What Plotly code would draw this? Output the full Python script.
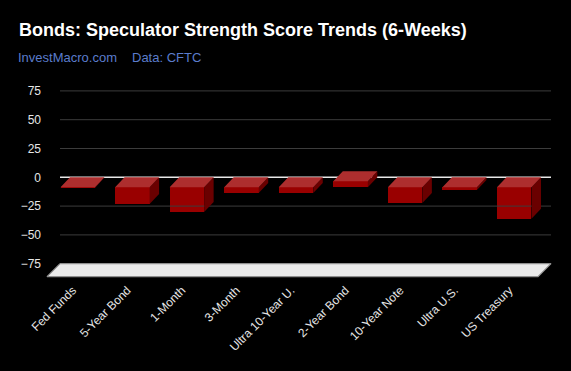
import plotly.graph_objects as go

# ---------------- data ----------------
categories = ["Fed Funds", "5-Year Bond", "1-Month", "3-Month", "Ultra 10-Year U.",
              "2-Year Bond", "10-Year Note", "Ultra U.S.", "US Treasury"]
scores = [-0.5, -14.5, -21.4, -4.9, -5.0, 5.2, -13.6, -2.3, -27.2]
y_ticks = [-75, -50, -25, 0, 25, 50, 75]

# ---------------- layout geometry (pixels) ----------------
W, H = 571, 371
L, R, T, B = 42, 560, 80, 280          # plot area
wall_left, wall_right = 60, 551         # back wall extent
zero_px, uy = 177.3, 1.152              # y pixel of 0, px per unit
n = len(categories)
ux = (wall_right - wall_left) / n       # px per category
x0_px = wall_left + ux / 2
xr = [(L - x0_px) / ux, (R - x0_px) / ux]
yr = [-(B - zero_px) / uy, (zero_px - T) / uy]
DX, DY = -9.5 / ux, -10 / uy            # 3D depth offsets (front = left/down)
FDX, FDY = -13 / ux, -13 / uy           # floor depth
LDX = -5 / ux                           # label nudge
bw = 34.5 / ux

FRONT, TOP, SIDE = "#990000", "#ad2e2e", "#6a0000"
FONT = "Liberation Sans, Arial, sans-serif"

fig = go.Figure()

# floor
ymin = min(y_ticks)
fig.add_trace(go.Scatter(
    x=[-0.5, n - 0.5, n - 0.5 + FDX, -0.5 + FDX, -0.5],
    y=[ymin, ymin, ymin + FDY, ymin + FDY, ymin],
    mode="lines", fill="toself", fillcolor="#ebebeb",
    line=dict(color="#8f8f8f", width=1.2), hoverinfo="skip", showlegend=False))

# gridlines on back wall
gx, gy = [], []
for t in y_ticks:
    if t in (0, ymin):
        continue
    gx += [-0.5, n - 0.5, None]
    gy += [t, t, None]
fig.add_trace(go.Scatter(x=gx, y=gy, mode="lines", line=dict(color="#3c3c3c", width=1),
                         hoverinfo="skip", showlegend=False))
fig.add_trace(go.Scatter(x=[-0.5, n - 0.5], y=[0, 0], mode="lines",
                         line=dict(color="#e8e8e8", width=1.5),
                         hoverinfo="skip", showlegend=False))

# front faces
fig.add_trace(go.Bar(x=[i + DX for i in range(n)], y=scores, base=DY, width=bw,
                     marker=dict(color=FRONT, line=dict(width=0)),
                     hoverinfo="skip", showlegend=False))

# side and top faces
sx, sy, tx, ty = [], [], [], []
for i, v in enumerate(scores):
    top, bot = max(v, 0), min(v, 0)
    fl, fr = i + DX - bw / 2, i + DX + bw / 2
    bl, br = i - bw / 2, i + bw / 2
    sx += [fr, br, br, fr, fr, None]
    sy += [top + DY, top, bot, bot + DY, top + DY, None]
    tx += [fl, fr, br, bl, fl, None]
    ty += [top + DY, top + DY, top, top, top + DY, None]
fig.add_trace(go.Scatter(x=sx, y=sy, mode="lines", fill="toself", fillcolor=SIDE,
                         line=dict(width=0, color=SIDE), hoverinfo="skip", showlegend=False))
fig.add_trace(go.Scatter(x=tx, y=ty, mode="lines", fill="toself", fillcolor=TOP,
                         line=dict(width=0, color=TOP), hoverinfo="skip", showlegend=False))

pw, ph = R - L, B - T
fig.add_annotation(text="<b>Bonds: Speculator Strength Score Trends (6-Weeks)</b>",
                   xref="paper", yref="paper", x=(17 - L) / pw, y=(B - 30) / ph,
                   xanchor="left", yanchor="middle", showarrow=False,
                   font=dict(family=FONT, size=18, color="#ffffff"))
fig.add_annotation(text="InvestMacro.com", xref="paper", yref="paper",
                   x=(16 - L) / pw, y=(B - 58) / ph, xanchor="left", yanchor="middle",
                   showarrow=False, font=dict(family=FONT, size=13, color="#5b7ccc"))
fig.add_annotation(text="Data: CFTC", xref="paper", yref="paper",
                   x=(130 - L) / pw, y=(B - 58) / ph, xanchor="left", yanchor="middle",
                   showarrow=False, font=dict(family=FONT, size=13, color="#5b7ccc"))

fig.update_layout(
    width=W, height=H,
    margin=dict(l=L, r=W - R, t=T, b=H - B),
    paper_bgcolor="#000000", plot_bgcolor="#000000",
    hovermode=False, bargap=0,
    xaxis=dict(range=xr, showgrid=False, zeroline=False, showline=False,
               tickmode="array", tickvals=[i + DX + LDX for i in range(n)], ticktext=categories,
               tickangle=-45, ticks="", tickfont=dict(family=FONT, size=12, color="#e6e6e6")),
    yaxis=dict(range=yr, showgrid=False, zeroline=False, showline=False,
               tickmode="array", tickvals=y_ticks, ticks="",
               tickfont=dict(family=FONT, size=12, color="#e6e6e6")),
)

fig.write_html("out.html", config={"displayModeBar": False},
               post_script="document.body.style.margin='0';document.body.style.background='#000';")
